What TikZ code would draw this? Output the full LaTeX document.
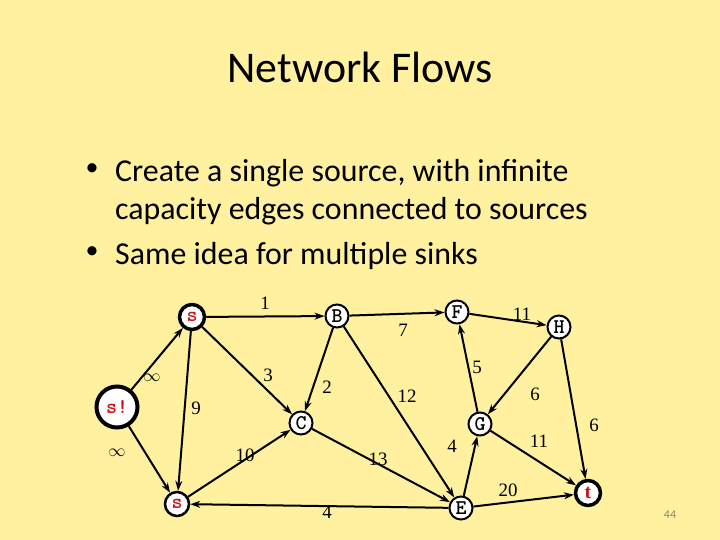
\documentclass[tikz,border=0pt]{standalone}
\usepackage{fontspec}
\setmainfont{Carlito}
\newfontfamily\serifnum{Liberation Serif}
\usetikzlibrary{arrows.meta}
\definecolor{bgyellow}{RGB}{255,241,160}
\definecolor{srcred}{RGB}{200,20,30}
\definecolor{pggray}{RGB}{140,135,100}
\begin{document}
\begin{tikzpicture}[x=1bp,y=-1bp,
  vtx/.style={circle,draw=black,fill=white,line width=2bp,inner sep=0pt,minimum size=23bp,font=\ttfamily\bfseries\fontsize{21}{21}\selectfont},
  src/.style={vtx,line width=3.5bp,text=srcred,minimum size=25bp},
  edge/.style={line width=2bp,-{Stealth[length=10bp,width=7bp]}},
  lbl/.style={font=\serifnum\fontsize{19}{19}\selectfont,inner sep=0pt},
  btxt/.style={font=\fontsize{32}{32}\selectfont,anchor=base west,inner sep=0pt}]
\fill[bgyellow] (0,0) rectangle (720,540);
\useasboundingbox (0,0) rectangle (720,540);
\node[font=\fontsize{44}{44}\selectfont] (title) at (360,67) {Network Flows};
\node[font=\fontsize{26}{26}\selectfont] (b1) at (92,170) {\textbullet};
\node[btxt] (t1) at (115,182) {Create a single source, with infinite};
\node[btxt] (t2) at (115,220) {capacity edges connected to sources};
\node[font=\fontsize{26}{26}\selectfont] (b2) at (92,253) {\textbullet};
\node[btxt] (t3) at (115,265) {Same idea for multiple sinks};
% nodes
\node[src] (s1) at (192,317) {s};
\node[src,minimum size=41bp,line width=4bp] (ss) at (117,407) {s!};
\node[vtx,text=srcred,line width=2.5bp,minimum size=24bp] (s2) at (177,504) {s};
\node[vtx] (B) at (337,316) {B};
\node[vtx] (C) at (301,423) {C};
\node[vtx] (F) at (457,312) {F};
\node[vtx] (H) at (559,327) {H};
\node[vtx] (G) at (480,424) {G};
\node[vtx] (E) at (461,508) {E};
\node[src,font=\serifnum\bfseries\fontsize{20}{20}\selectfont] (t) at (588,493) {t};
% edges
\draw[edge] (ss) -- (s1);
\draw[edge] (ss) -- (s2);
\draw[edge] (s1) -- (B);
\draw[edge] (s1) -- (C);
\draw[edge] (s1) -- (s2);
\draw[edge] (s2) -- (C);
\draw[edge] (B) -- (C);
\draw[edge] (B) -- (F);
\draw[edge] (B) -- (E);
\draw[edge] (C) -- (E);
\draw[edge] (E) -- (s2);
\draw[edge] (E) -- (G);
\draw[edge] (G) -- (F);
\draw[edge] (F) -- (H);
\draw[edge] (H) -- (G);
\draw[edge] (H) -- (t);
\draw[edge] (G) -- (t);
\draw[edge] (E) -- (t);
% labels
\node[lbl] (l1) at (265,303) {1};
\node[lbl] (l7) at (403,330) {7};
\node[lbl] (l11a) at (522,314) {11};
\node[lbl] (li1) at (152,378) {$\infty$};
\node[lbl] (li2) at (117,453) {$\infty$};
\node[lbl] (l3) at (268,375) {3};
\node[lbl] (l2) at (327,387) {2};
\node[lbl] (l12) at (407,396) {12};
\node[lbl] (l5) at (477,367) {5};
\node[lbl] (l6a) at (535,394) {6};
\node[lbl] (l9) at (196,408) {9};
\node[lbl] (l10) at (245,455) {10};
\node[lbl] (l13) at (378,459) {13};
\node[lbl] (l4a) at (452,446) {4};
\node[lbl] (l11b) at (539,441) {11};
\node[lbl] (l6b) at (594,425) {6};
\node[lbl] (l20) at (508,490) {20};
\node[lbl] (l4b) at (327,512) {4};
\node[font=\fontsize{12}{12}\selectfont,text=pggray] (pg) at (670,515) {44};
\end{tikzpicture}
\end{document}
